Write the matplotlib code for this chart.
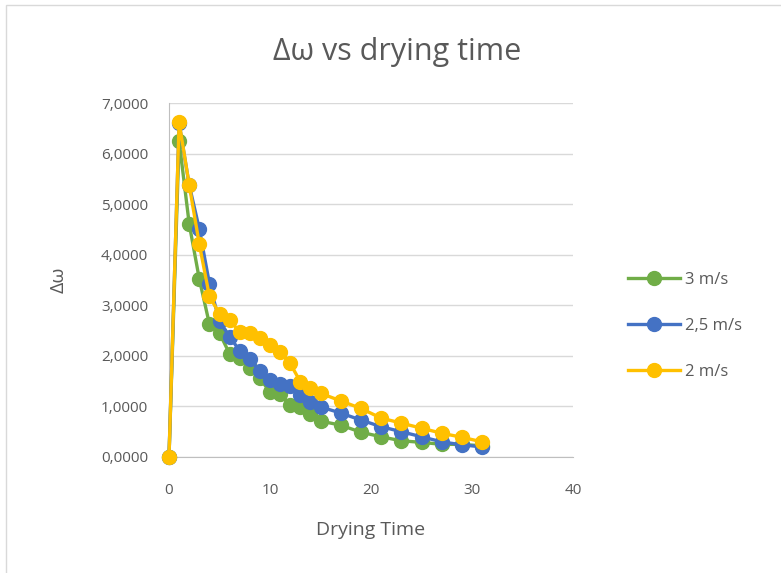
import matplotlib.pyplot as plt
from matplotlib.patches import Rectangle
from matplotlib.ticker import FuncFormatter

# drying time (x) and delta omega for each air speed
time = [0, 1, 2, 3, 4, 5, 6, 7, 8, 9, 10, 11, 12, 13, 14, 15,
        17, 19, 21, 23, 25, 27, 29, 31]
dw_3 = [0.0, 6.25, 4.61, 3.52, 2.63, 2.45, 2.04, 1.96, 1.76, 1.56, 1.28, 1.24,
        1.02, 0.98, 0.85, 0.71, 0.63, 0.49, 0.40, 0.32, 0.29, 0.25, 0.25, 0.22]
dw_25 = [0.0, 6.60, 5.38, 4.51, 3.43, 2.68, 2.38, 2.10, 1.93, 1.70, 1.52, 1.45,
         1.40, 1.23, 1.09, 0.99, 0.87, 0.73, 0.60, 0.50, 0.40, 0.30, 0.24, 0.20]
dw_2 = [0.0, 6.62, 5.38, 4.21, 3.18, 2.83, 2.70, 2.48, 2.45, 2.35, 2.21, 2.08,
        1.85, 1.49, 1.36, 1.26, 1.11, 0.96, 0.77, 0.67, 0.57, 0.47, 0.39, 0.30]

series = [("3 m/s", dw_3, "#70AD47"),
          ("2,5 m/s", dw_25, "#4472C4"),
          ("2 m/s", dw_2, "#FFC000")]

plt.rcParams['font.family'] = ['Open Sans', 'DejaVu Sans']
text_col = "#595959"

fig = plt.figure(figsize=(7.81, 5.73), dpi=100)
fig.patches.append(Rectangle((6 / 781, -0.01), 1.0, 1.0 - 5 / 573 + 0.01,
                             transform=fig.transFigure, fill=False,
                             edgecolor="#D9D9D9", linewidth=1))
ax = fig.add_axes([169 / 781, 116 / 573, 404 / 781, 354 / 573])

for name, vals, col in series:
    ax.plot(time, vals, color=col, linewidth=2.4, marker="o", markersize=10,
            label=name, clip_on=False, zorder=3)

ax.set_xlim(0, 40)
ax.set_ylim(0, 7)
ax.set_xticks([0, 10, 20, 30, 40])
ax.set_yticks(range(8))
ax.yaxis.set_major_formatter(FuncFormatter(lambda v, p: f"{v:.4f}".replace(".", ",")))
ax.grid(axis="y", color="#D9D9D9", linewidth=1)
ax.set_axisbelow(True)
for s in ["top", "right"]:
    ax.spines[s].set_visible(False)
ax.spines["left"].set_color("#BFBFBF")
ax.spines["bottom"].set_color("#BFBFBF")
ax.tick_params(length=0, labelsize=11, labelcolor=text_col)
ax.tick_params(axis="x", pad=19)
ax.tick_params(axis="y", pad=15)

ax.set_xlabel("Drying Time", fontsize=14, color=text_col, labelpad=16)
ax.set_ylabel("Δω", fontsize=14, color=text_col, labelpad=24)
fig.suptitle("Δω vs drying time", fontsize=22, color=text_col, x=397 / 781, y=0.935)

ax.legend(loc="center left", bbox_to_anchor=(1.1, 0.37), frameon=False,
          fontsize=12, labelcolor=text_col, handlelength=3.1, labelspacing=1.8,
          handletextpad=0.3)

fig.savefig("out.png", dpi=100)
